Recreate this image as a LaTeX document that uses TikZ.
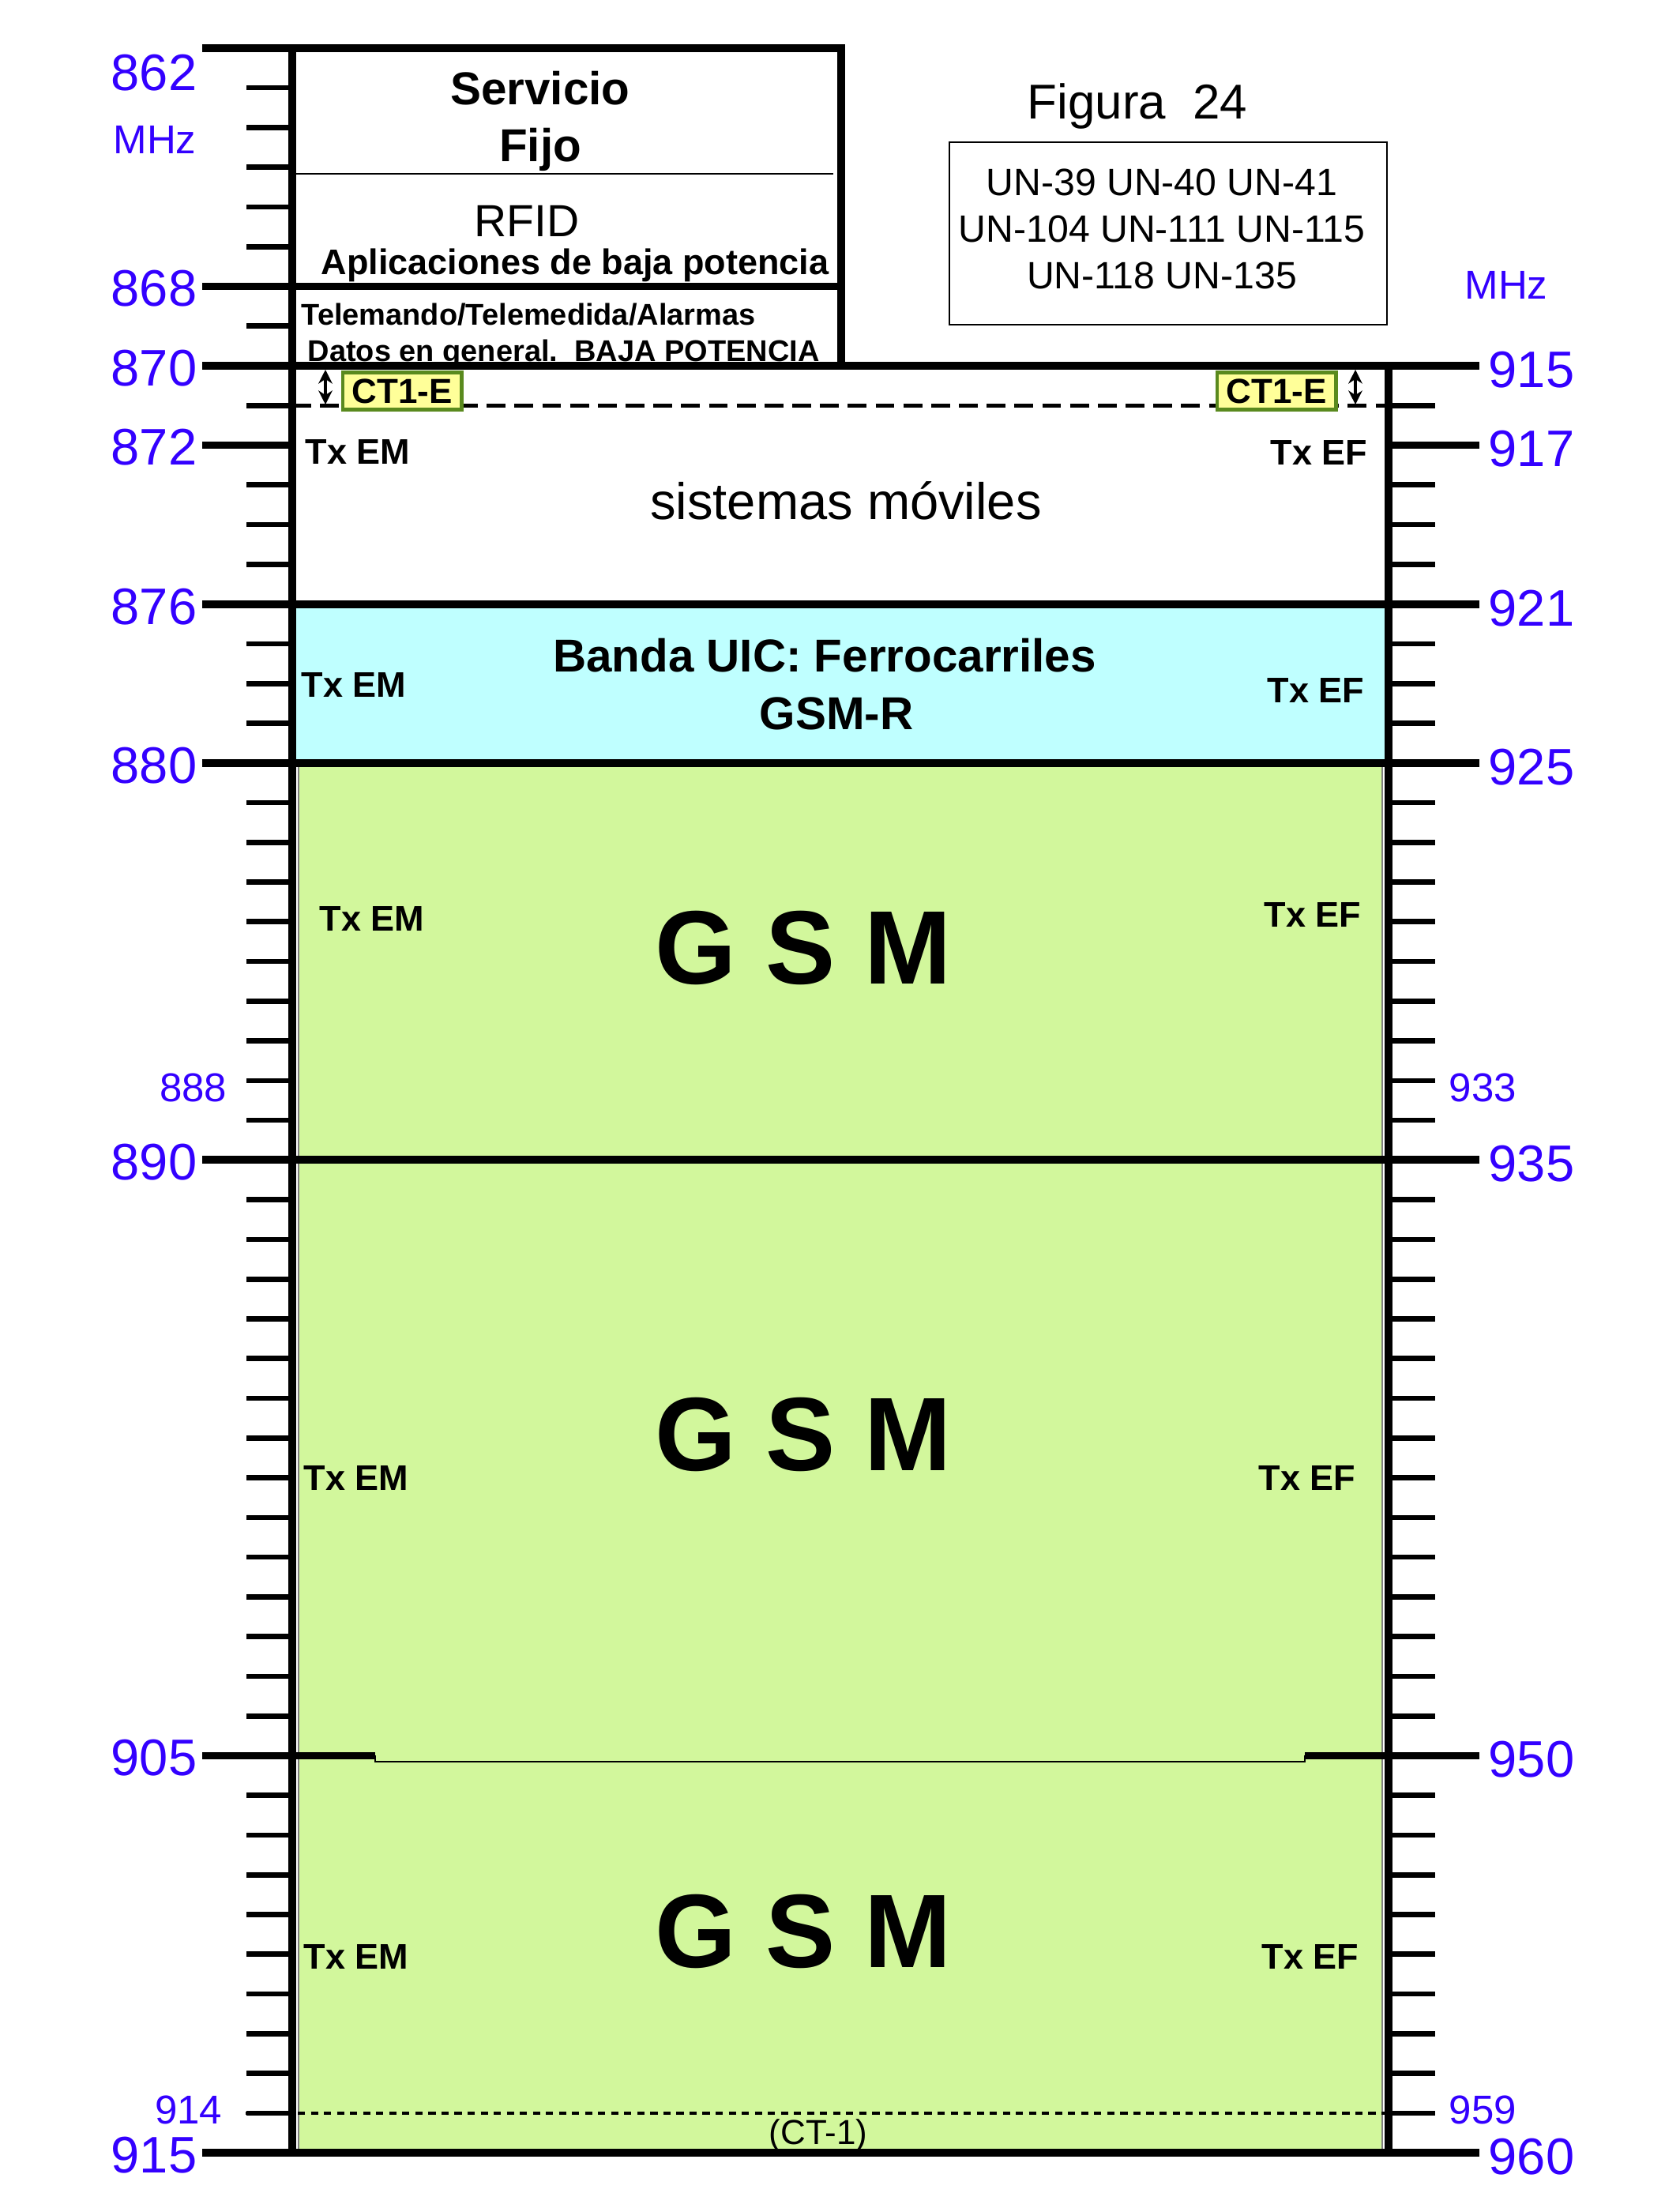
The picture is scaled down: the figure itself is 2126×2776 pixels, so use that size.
\documentclass[tikz,border=0pt]{standalone}
\usepackage{fontspec}
\setmainfont{Liberation Sans}
\usetikzlibrary{arrows.meta}
\definecolor{freqblue}{HTML}{3300FF}
\definecolor{uiccyan}{HTML}{BFFFFF}
\definecolor{gsmgreen}{HTML}{D2F79C}
\definecolor{ctyellow}{HTML}{FFFF99}
\definecolor{ctgreen}{HTML}{5A8A1E}
\newcommand{\fy}[1]{463+(#1-870)*50.27}

\begin{document}
\begin{tikzpicture}[x=0.01cm, y=-0.01cm, >=Stealth, every node/.style={inner sep=0pt},
  bigfreq/.style={text=freqblue, font=\fontsize{18.5}{20}\selectfont},
  smallfreq/.style={text=freqblue, font=\fontsize{14.5}{16}\selectfont},
  txlbl/.style={font=\bfseries\fontsize{12.8}{14}\selectfont},
  gsmlbl/.style={font=\bfseries\fontsize{37.6}{40}\selectfont},
  ctbox/.style={fill=ctyellow, draw=ctgreen, line width=1.4pt, minimum width=1.5cm, minimum height=0.47cm, font=\bfseries\fontsize{12.5}{13}\selectfont},
  border/.style={line width=2.8pt},
  minortick/.style={line width=1.9pt},
  majortick/.style={line width=2.4pt}]
\useasboundingbox (0,0) rectangle (2126,2776);

\fill[uiccyan] (370,{\fy{876}}) rectangle (1758,{\fy{880}});
\filldraw[fill=gsmgreen, draw=gray, line width=0.5pt] (378,{\fy{880}}) rectangle (1750,{\fy{915}});

\foreach \fr in {862,...,915} \draw[minortick] (312,{\fy{\fr}}) -- (370,{\fy{\fr}});
\foreach \fr in {915,...,960} \draw[minortick] (1758,{\fy{\fr-45}}) -- (1817,{\fy{\fr-45}});
\foreach \fr in {868,870,872,876,880,890,905,915} {
  \draw[majortick] (256,{\fy{\fr}}) -- (370,{\fy{\fr}});
  \node[bigfreq, anchor=east] at (250,{\fy{\fr}+3}) {\fr};
}
\foreach \fr in {915,917,921,925,935,950,960} {
  \draw[majortick] (1758,{\fy{\fr-45}}) -- (1873,{\fy{\fr-45}});
  \node[bigfreq, anchor=west] at (1884,{\fy{\fr-45}+5}) {\fr};
}
\node[bigfreq, anchor=east] (f862) at (250,92) {862};
\node[smallfreq] (mhzL) at (196,177) {MHz};
\node[smallfreq] (mhzR) at (1907,361) {MHz};
\node[smallfreq, anchor=east] (f888) at (288,{\fy{888}+9}) {888};
\node[smallfreq, anchor=west] (f933) at (1834,{\fy{888}+9}) {933};
\node[smallfreq, anchor=east] (f914) at (282,{\fy{914}-4}) {914};
\node[smallfreq, anchor=west] (f959) at (1834,{\fy{914}-4}) {959};

\node[font=\bfseries\fontsize{16.6}{20.5}\selectfont, align=center] (servicio) at (684,153) {Servicio\\Fijo};
\node[font=\fontsize{16.2}{18}\selectfont] (rfid) at (667,280) {RFID};
\node[font=\bfseries\fontsize{12.8}{14}\selectfont] (aplic) at (728,336) {Aplicaciones de baja potencia};
\node[anchor=west, font=\bfseries\fontsize{10.8}{12}\selectfont] (telem) at (381,398) {Telemando/Telemedida/Alarmas};
\node[anchor=west, font=\bfseries\fontsize{10.8}{12}\selectfont] (datos) at (389,448) {Datos en general.~~BAJA POTENCIA};

\draw[border] (256,{\fy{862}}) -- (1065,{\fy{862}}) -- (1065,{\fy{870}});
\draw[border] (256,{\fy{868}}) -- (1065,{\fy{868}});
\draw[line width=0.6pt] (370,220) -- (1055,220);
\draw[border] (370,{\fy{862}}) -- (370,{\fy{915}});
\draw[border] (1758,{\fy{870}}) -- (1758,{\fy{915}});
\foreach \fr in {870,876,880,890,915} \draw[border] (256,{\fy{\fr}}) -- (1873,{\fy{\fr}});
\draw[border] (370,{\fy{905}}) -- (475,{\fy{905}});
\draw[border] (1652,{\fy{905}}) -- (1758,{\fy{905}});
\draw[line width=0.7pt] (475,{\fy{905}}) -- (475,2230) -- (1652,2230) -- (1652,{\fy{905}});

\draw[line width=1.3pt, dash pattern=on 6.8pt off 3.2pt] (370,{\fy{871}}) -- (1758,{\fy{871}});
\draw[line width=1.1pt, dash pattern=on 2.6pt off 2.1pt] (311,{\fy{914}}) -- (1806,{\fy{914}});

\node[ctbox] (ctL) at (509,495) {CT1-E};
\node[ctbox] (ctR) at (1616,495) {CT1-E};
\draw[{Stealth[length=5pt,width=5pt]}-{Stealth[length=5pt,width=5pt]}, line width=1.1pt] (412,468) -- (412,512);
\draw[{Stealth[length=5pt,width=5pt]}-{Stealth[length=5pt,width=5pt]}, line width=1.1pt] (1716,468) -- (1716,512);

\node[font=\fontsize{18.5}{20}\selectfont] (moviles) at (1071,634) {sistemas móviles};
\node[txlbl, anchor=west] (emA) at (386,572) {Tx EM};
\node[txlbl, anchor=east] (efA) at (1732,573) {Tx EF};

\node[font=\bfseries\fontsize{16.6}{20}\selectfont] (uic) at (1044,830) {Banda UIC: Ferrocarriles};
\node[font=\bfseries\fontsize{16.6}{20}\selectfont] (gsmr) at (1059,903) {GSM-R};
\node[txlbl, anchor=west] (emB) at (381,867) {Tx EM};
\node[txlbl, anchor=east] (efB) at (1728,874) {Tx EF};

\node[gsmlbl] (gsmA) at (1017,1200) {G S M};
\node[txlbl, anchor=west] (emC) at (404,1163) {Tx EM};
\node[txlbl, anchor=east] (efC) at (1724,1158) {Tx EF};
\node[gsmlbl] (gsmB) at (1017,1816) {G S M};
\node[txlbl, anchor=west] (emD) at (384,1871) {Tx EM};
\node[txlbl, anchor=east] (efD) at (1717,1871) {Tx EF};
\node[gsmlbl] (gsmC) at (1017,2445) {G S M};
\node[txlbl, anchor=west] (emE) at (384,2477) {Tx EM};
\node[txlbl, anchor=east] (efE) at (1721,2477) {Tx EF};
\node[font=\fontsize{12.5}{14}\selectfont] (ct1) at (1036,2703) {(CT-1)};

\node[font=\fontsize{17.6}{20}\selectfont] (figura) at (1440,135) {Figura~~24};
\draw[line width=0.8pt] (1202,180) rectangle (1756,411);
\node[font=\fontsize{13.7}{16.8}\selectfont, align=center] (unlist) at (1471,290) {UN-39 UN-40 UN-41\\UN-104 UN-111 UN-115\\UN-118 UN-135};
\end{tikzpicture}
\end{document}
